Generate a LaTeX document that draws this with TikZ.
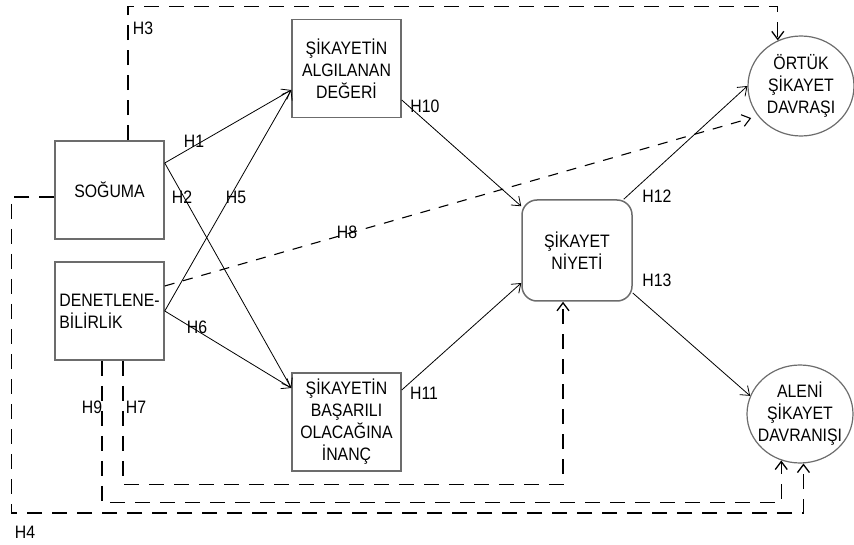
\documentclass[tikz,border=0pt]{standalone}
\usepackage{fontspec}
\setmainfont{Liberation Sans}[FakeStretch=0.88]
\usetikzlibrary{arrows.meta,shapes.geometric}

\tikzset{
  yazi/.style={font=\fontsize{18}{22}\selectfont, inner sep=0pt},
  kutu/.style={yazi, draw=gray!85!black, line width=1.5pt, minimum width=109pt, minimum height=98pt, align=center},
  niyet/.style={kutu, rounded corners=15pt, minimum width=110pt, minimum height=101pt},
  elips/.style={ellipse, draw=gray!85!black, line width=1.2pt, inner sep=0pt, minimum width=106pt},
  ok/.style={-{Straight Barb[length=8pt,width=12pt]}, line width=0.8pt},
  kesik/.style={ok, line width=1.3pt, dash pattern=on 15pt off 10pt},
  kisakesik/.style={ok, line width=1.1pt, dash pattern=on 10pt off 9pt}
}

\begin{document}
\begin{tikzpicture}[x=1pt, y=-1pt]
        \useasboundingbox (0,0) rectangle (854,545);

        % Kutular (gizil degiskenler)
        \node[kutu] (sog) at (109.5,190) {SOĞUMA};
        \node[kutu, align=left] (den) at (109.5,311) {DENETLENE-\\BİLİRLİK};
        \node[kutu] (alg) at (346.5,68.5) {ŞİKAYETİN\\ALGILANAN\\DEĞERİ};
        \node[kutu] (bas) at (346.5,422) {ŞİKAYETİN\\BAŞARILI\\OLACAĞINA\\İNANÇ};
        \node[niyet] (niy) at (577,250.5) {ŞİKAYET\\NİYETİ};

        % Davranis elipsleri
        \node[elips, minimum height=100pt] (ort) at (801,86) {};
        \node[yazi, align=center] (ortyazi) at (ort) {ÖRTÜK\\ŞİKAYET\\DAVRAŞI};
        \node[elips, minimum height=98pt] (ale) at (800,414) {};
        \node[yazi, align=center] (aleyazi) at (ale) {ALENİ\\ŞİKAYET\\DAVRANIŞI};

        % Dogrudan etkiler
        \draw[ok] ([yshift=27pt]sog.east) -- ([yshift=-21.5pt]alg.west);
        \draw[ok] ([yshift=27pt]sog.east) -- ([yshift=34pt]bas.west);
        \draw[ok] (den.east) -- ([yshift=-21.5pt]alg.west);
        \draw[ok] (den.east) -- ([yshift=34pt]bas.west);
        \draw[ok] ([yshift=-31.5pt]alg.east) -- ([yshift=-7pt]niy.north west);
        \draw[ok] ([yshift=32pt]bas.east) -- ([yshift=-32.5pt]niy.west);
        \draw[ok] ([xshift=-9pt]niy.north east) -- (ort.west);
        \draw[ok] ([yshift=-42.5pt]niy.east) -- (ale.160);

        % Kesikli yollar (H3, H4, H7, H8, H9)
        \draw[kesik] ([xshift=18.5pt]sog.north) -- ++(0,-134) -| (ort.117);
        \draw[kesik] ([yshift=-7pt]sog.west) -- ++(-43,0) -- ++(0,316) -| (ale.274);
        \draw[kesik] ([xshift=-7.5pt]den.south) -- ++(0,142) -| (ale.248);
        \draw[kesik] ([xshift=13.5pt]den.south) -- ++(0,124) -| ([xshift=-14pt]niy.south);
        \draw[kisakesik, shorten >=7pt] ([yshift=25pt]den.east) -- (ort.215);

        % Hipotez etiketleri
        \node[yazi] (h1) at (194,141) {H1};
        \node[yazi] (h2) at (182,197) {H2};
        \node[yazi] (h3) at (143,28) {H3};
        \node[yazi] (h4) at (25,532) {H4};
        \node[yazi] (h5) at (236,197) {H5};
        \node[yazi] (h6) at (197,327) {H6};
        \node[yazi] (h7) at (136,407) {H7};
        \node[yazi] (h8) at (347,232) {H8};
        \node[yazi] (h9) at (92,407) {H9};
        \node[yazi] (h10) at (425,106) {H10};
        \node[yazi] (h11) at (424,393) {H11};
        \node[yazi] (h12) at (657,196) {H12};
        \node[yazi] (h13) at (657,280) {H13};
    \end{tikzpicture}
\end{document}
